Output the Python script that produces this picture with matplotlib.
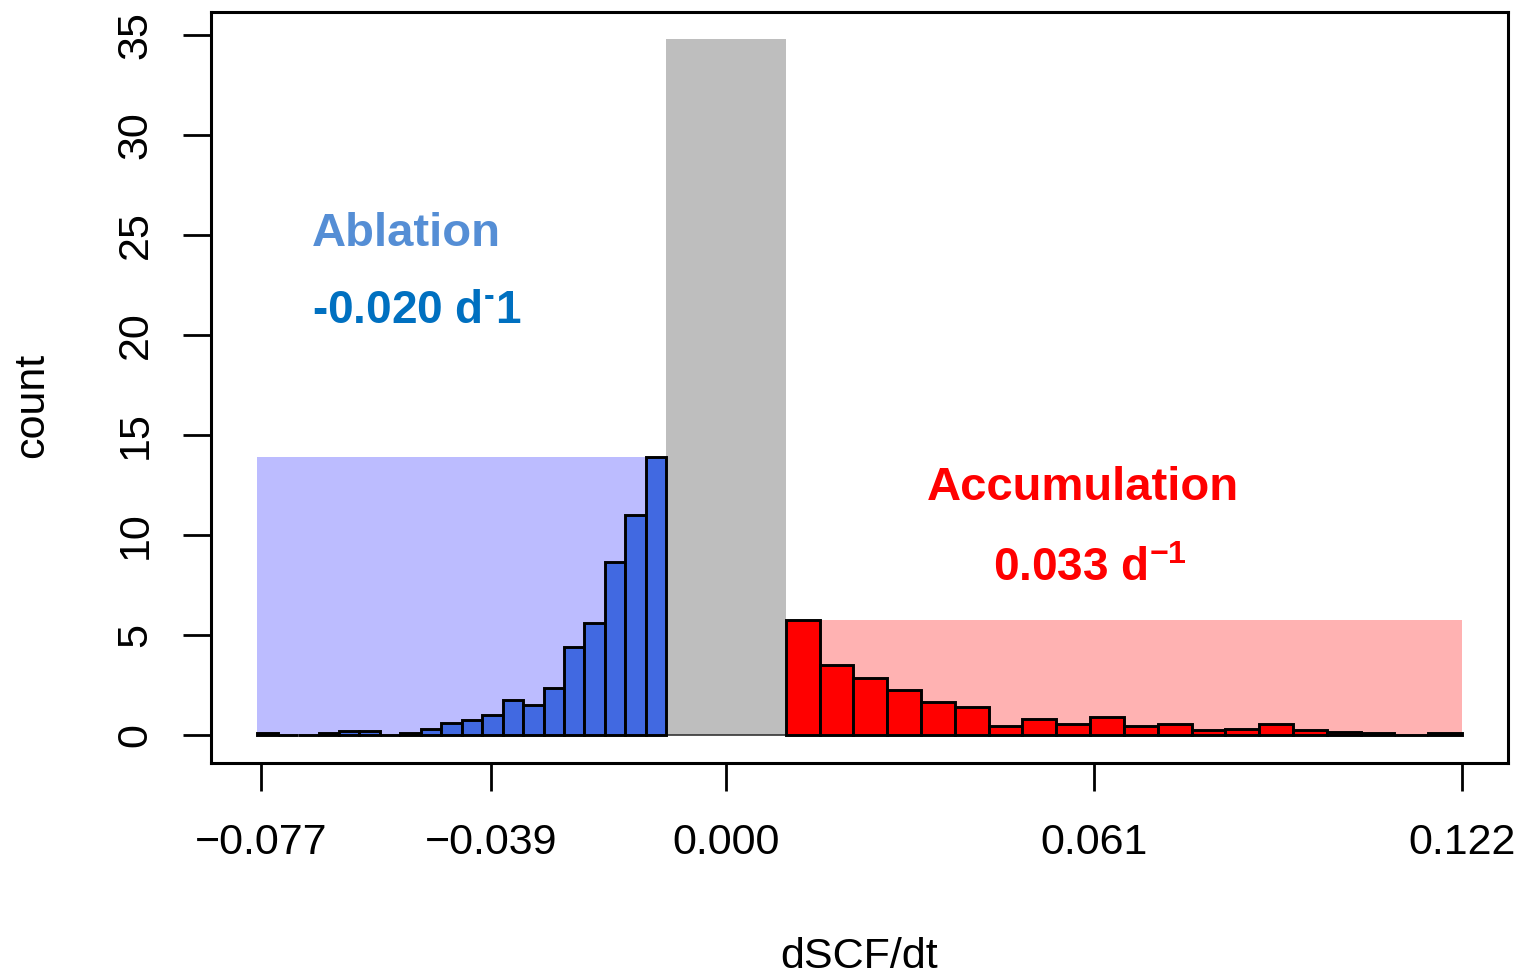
import numpy as np
import matplotlib
matplotlib.use("Agg")
import matplotlib.pyplot as plt
from matplotlib.patches import Rectangle

# ---------------- data ----------------
blue_counts = [0.1, 0.0, 0.0, 0.1, 0.2, 0.2, 0.0, 0.1, 0.3, 0.6,
               0.75, 1.0, 1.77, 1.5, 2.33, 4.4, 5.6, 8.67, 11.0, 13.9]
blue_range = [-0.0777, -0.0099]
red_counts = [5.75, 3.48, 2.83, 2.23, 1.67, 1.42, 0.45, 0.82, 0.55, 0.92,
              0.47, 0.53, 0.25, 0.28, 0.53, 0.25, 0.15, 0.12, 0.0, 0.1]
red_range = [0.0099, 0.122]
gray_height = 34.8
x_ticks = [-0.077, -0.039, 0.000, 0.061, 0.122]
x_ticklabels = ["\u22120.077", "\u22120.039", "0.000", "0.061", "0.122"]
y_ticks = [0, 5, 10, 15, 20, 25, 30, 35]

# ---------------- style ----------------
plt.rcParams['font.family'] = ['Liberation Sans', 'DejaVu Sans']
plt.rcParams['mathtext.fontset'] = 'custom'
plt.rcParams['mathtext.rm'] = 'Liberation Sans'
plt.rcParams['mathtext.bf'] = 'Liberation Sans:bold'

W, H = 1527, 976
fig = plt.figure(figsize=(W / 100, H / 100), dpi=100)
ax = fig.add_axes([211 / W, 1 - 763 / H, (1508 - 211) / W, (763 - 12) / H])

ax.set_xlim(-0.08536, 0.12962)
ax.set_ylim(-1.4, 36.15)

blue_edges = np.linspace(blue_range[0], blue_range[1], len(blue_counts) + 1)
red_edges = np.linspace(red_range[0], red_range[1], len(red_counts) + 1)

# shaded background rectangles
ax.add_patch(Rectangle((blue_edges[0], 0), blue_edges[-1] - blue_edges[0], max(blue_counts),
                       facecolor='#BCBCFF', edgecolor='none', zorder=1))
ax.add_patch(Rectangle((red_edges[0], 0), red_edges[-1] - red_edges[0], max(red_counts),
                       facecolor='#FFB2B2', edgecolor='none', zorder=1))
# gray central band
ax.add_patch(Rectangle((blue_edges[-1], 0), red_edges[0] - blue_edges[-1], gray_height,
                       facecolor='#BEBEBE', edgecolor='none', zorder=1))
ax.plot([blue_edges[-1], red_edges[0]], [0, 0], color='#333333', lw=1.2, zorder=2)

# histogram bars
ax.bar(blue_edges[:-1], blue_counts, width=np.diff(blue_edges), align='edge',
       color='#4169E1', edgecolor='black', linewidth=2.1, zorder=3)
ax.bar(red_edges[:-1], red_counts, width=np.diff(red_edges), align='edge',
       color='#FF0000', edgecolor='black', linewidth=2.1, zorder=3)

# ticks
ax.set_xticks(x_ticks)
ax.set_xticklabels(x_ticklabels)
ax.set_yticks(y_ticks)
ax.tick_params(axis='both', direction='out', length=20, width=2.0, labelsize=31, color='black')
ax.tick_params(axis='x', pad=23)
ax.tick_params(axis='y', pad=20)
for lab in ax.get_yticklabels():
    lab.set_rotation(90)
    lab.set_va('center')

for sp in ax.spines.values():
    sp.set_linewidth(2.2)

ax.set_xlabel('dSCF/dt', fontsize=31, va='baseline')
ax.xaxis.set_label_coords(0.5, (763 - 968) / (763 - 12))
ax.set_ylabel('count', fontsize=31, va='center')
ax.yaxis.set_label_coords((32 - 211) / (1508 - 211), (763 - 405) / (763 - 12))

# annotations
ax.text(-0.0686, 24.45, 'Ablation', color='#558ED5', fontsize=34, fontweight='bold',
        ha='left', va='baseline', zorder=4)
ax.text(-0.0686, 20.58, '-0.020 d$^{\\mathbf{\u2010}}$1', color='#0070C0', fontsize=33,
        fontweight='bold', ha='left', va='baseline', zorder=4)
ax.text(0.0592, 11.75, 'Accumulation', color='#FF0000', fontsize=34, fontweight='bold',
        ha='center', va='baseline', zorder=4)
ax.text(0.0603, 7.7, r'0.033 d$^{\mathbf{-1}}$', color='#FF0000', fontsize=33,
        fontweight='bold', ha='center', va='baseline', zorder=4)

fig.savefig('out.png', dpi=100)
